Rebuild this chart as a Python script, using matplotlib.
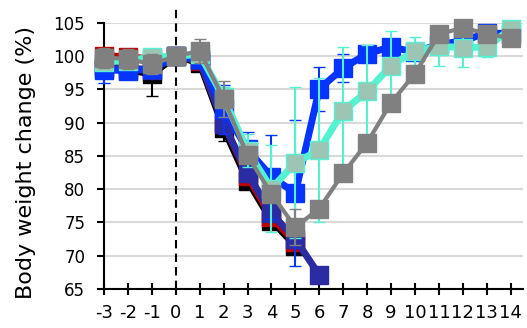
import numpy as np
import matplotlib.pyplot as plt

days = list(range(-3, 15))

# body weight change (%) per group
black_y = [98.3, 98.0, 97.3, 100, 99.0, 89.2, 81.3, 75.3, 71.5]
black_err = [0.8, 0.8, 3.3, 0, 1.0, 1.9, 1.0, 1.2, 1.0]
red_y = [100.1, 99.9, 99.6, 100, 99.3, 90.0, 82.0, 75.8, 72.0]
red_err = [1.0, 1.0, 0.8, 0, 1.0, 1.0, 1.0, 1.0, 1.0]
navy_y = [98.7, 98.2, 98.0, 100, 99.4, 89.8, 82.4, 76.4, 72.5, 67.1]
navy_err = [0.8, 0.8, 0.8, 0, 0.8, 1.0, 1.0, 1.0, 1.0, 1.0]
blue_y = [98.0, 97.8, 98.1, 100, 99.6, 92.0, 86.0, 81.9, 79.4, 95.1,
          98.2, 100.4, 101.4, 100.6, 101.8, 102.3, 103.5, 103.4]
blue_err = [2.0, 1.0, 1.0, 0, 0.8, 3.7, 2.6, 6.3, 11.0, 3.3,
            2.1, 1.0, 1.0, 0.8, 1.0, 0.8, 0.8, 0.8]
turq_y = [99.2, 99.3, 99.9, 100, 100.3, 93.8, 85.8, 80.1, 84.0, 85.9,
          91.8, 94.7, 98.6, 100.8, 101.5, 101.3, 101.4, 104.1]
turq_err = [1.0, 1.0, 1.2, 0, 1.0, 1.5, 2.5, 6.5, 11.4, 10.8,
            9.6, 7.0, 5.2, 2.1, 3.0, 2.9, 1.5, 1.0]
gray_y = [99.8, 99.6, 98.8, 100, 100.8, 93.6, 85.1, 79.3, 74.3, 77.1,
          82.4, 87.0, 93.0, 97.4, 103.3, 104.3, 103.4, 102.7]
gray_err = [1.5, 1.5, 1.5, 0, 1.8, 2.7, 1.2, 1.2, 2.7, 1.0,
            1.0, 1.0, 1.0, 1.0, 1.0, 1.0, 1.0, 1.0]

series = [
    # values, errors, line colour, marker face, line width
    (black_y, black_err, '#000000', '#000000', 5),
    (red_y, red_err, '#C00000', '#C00000', 5),
    (navy_y, navy_err, '#2B2BA3', '#2B2BA3', 5),
    (blue_y, blue_err, '#0533FF', '#0533FF', 5),
    (turq_y, turq_err, '#55F2D2', '#9CC5B3', 5),
    (gray_y, gray_err, '#808080', '#808080', 3),
]

plt.rcParams['font.family'] = ['DejaVu Sans']
plt.rcParams['axes.unicode_minus'] = False
fig = plt.figure(figsize=(5.27, 3.28), dpi=100)
ax = fig.add_axes([0.1973, 0.1189, 0.7944, 0.8110])

for i, (ys, errs, col, face, lw) in enumerate(series):
    xs = days[:len(ys)]
    ax.errorbar(xs, ys, yerr=errs, color=col, lw=lw, marker='s', ms=12.5,
                mfc=face, mec=col, mew=1, ecolor=col, elinewidth=1.5,
                capsize=4.5, capthick=1.5, zorder=3 + i, clip_on=False)

ax.plot([0, 0], [65, 107.5], color='black', lw=1.5, ls=(0, (4, 2.5)),
        clip_on=False, zorder=2)

ax.set_xlim(-3, 14.5)
ax.set_ylim(65, 105)
ax.set_xticks(days)
ax.set_yticks(range(65, 106, 5))
ax.yaxis.grid(True, color='#D9D9D9', lw=1.5)
ax.set_axisbelow(True)
for s in ['top', 'right']:
    ax.spines[s].set_visible(False)
for s in ['left', 'bottom']:
    ax.spines[s].set_linewidth(1.5)
ax.tick_params(axis='x', direction='inout', length=8, width=1.5,
               labelsize=13, pad=7)
ax.tick_params(axis='y', direction='out', length=5, width=1.5,
               labelsize=12, pad=8.5)
ax.set_ylabel('Body weight change (%)', fontsize=16)
ax.yaxis.set_label_coords(-0.162, 0.475)

fig.savefig('out.png', dpi=100)
